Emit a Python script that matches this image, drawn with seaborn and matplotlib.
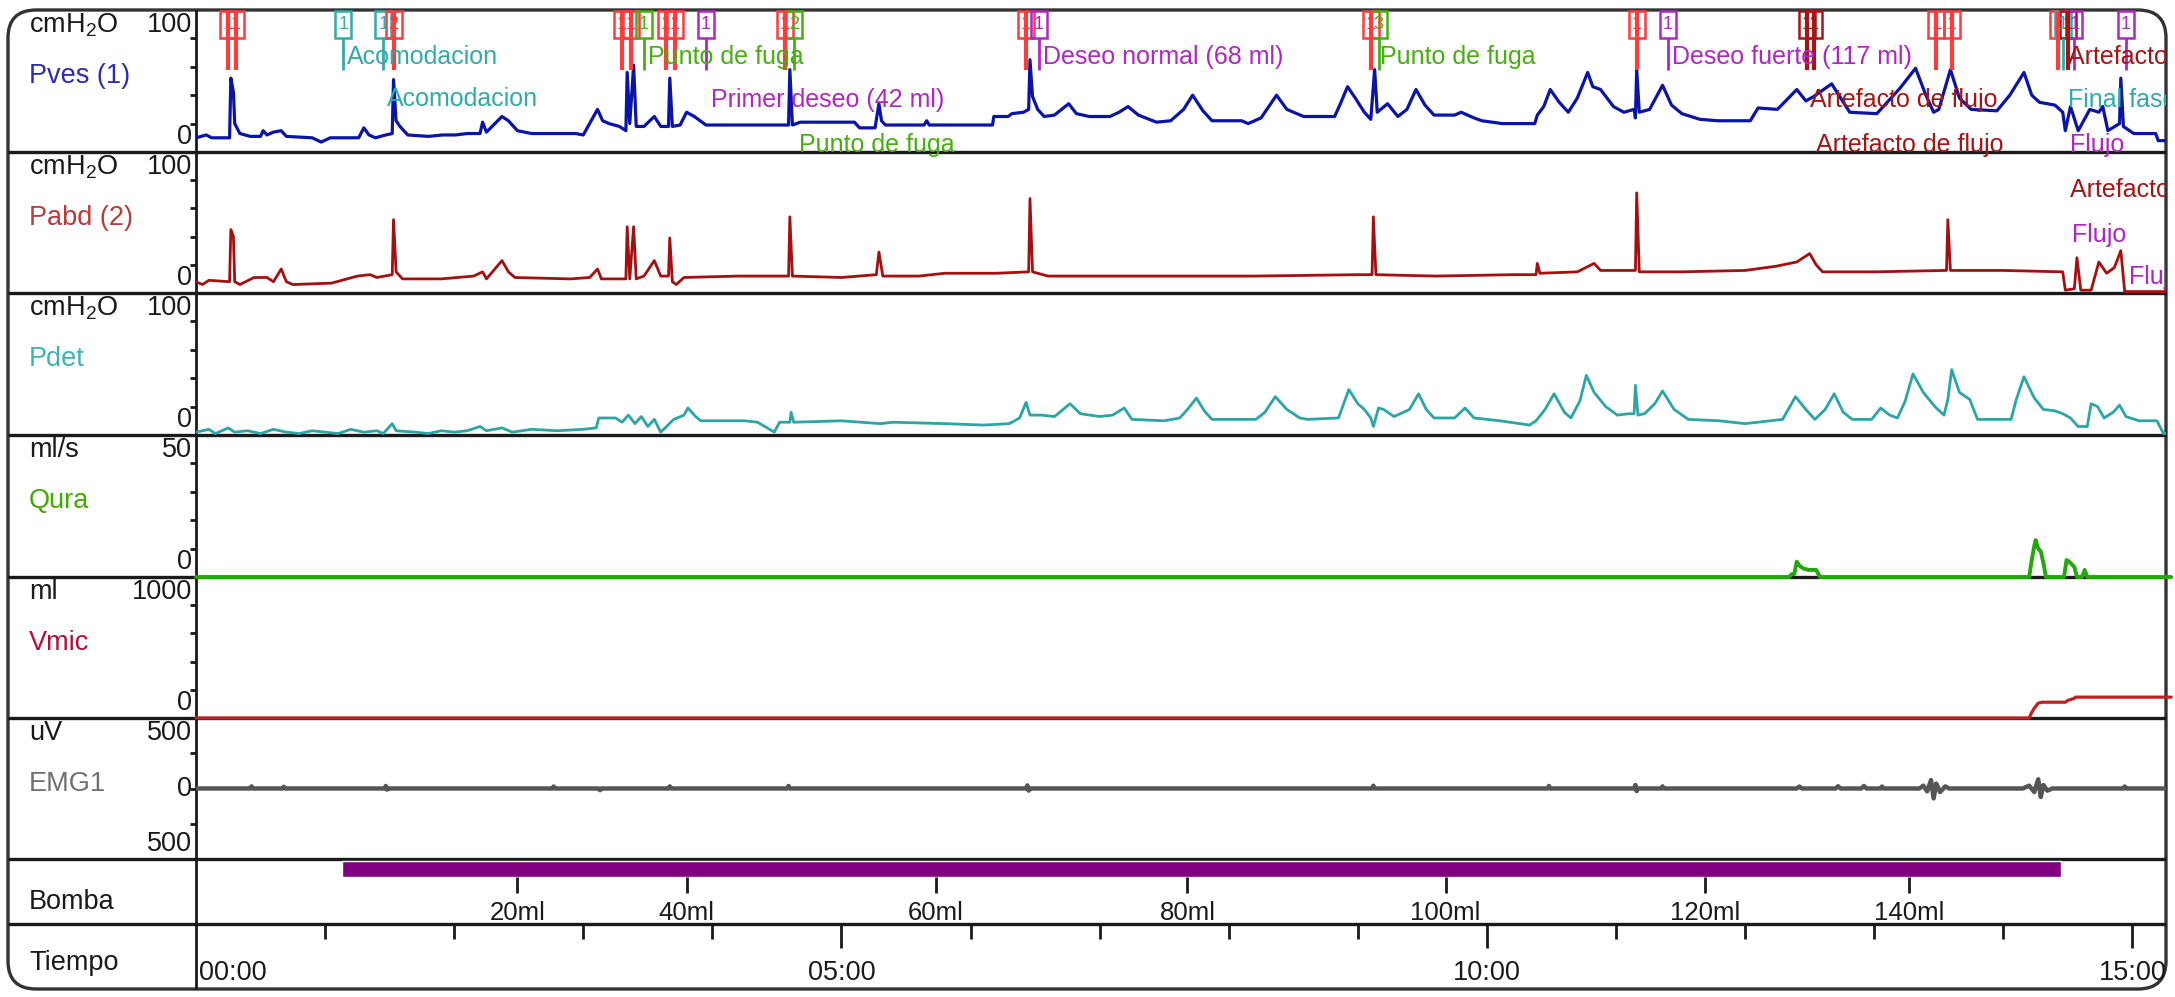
import matplotlib
matplotlib.use("Agg")
import matplotlib.pyplot as plt
from matplotlib.patches import FancyBboxPatch, Rectangle
import seaborn as sns

# ---------------- data (time in minutes) ----------------
pves = [(0.00, 10), (0.08, 12), (0.12, 10), (0.26, 10), (0.27, 52), (0.29, 42), (0.30, 20), (0.34, 13),
        (0.42, 11), (0.50, 11), (0.52, 15), (0.55, 12), (0.60, 14), (0.66, 15), (0.70, 11), (0.90, 10),
        (0.97, 7), (1.04, 10), (1.26, 10), (1.30, 17), (1.34, 12), (1.39, 10), (1.47, 12), (1.52, 13),
        (1.53, 51), (1.55, 22), (1.58, 18), (1.64, 12), (1.80, 11), (1.91, 12), (2.01, 12), (2.10, 13),
        (2.20, 13), (2.22, 21), (2.25, 14), (2.37, 25), (2.42, 22), (2.49, 15), (2.60, 13), (2.94, 13),
        (3.00, 12), (3.11, 30), (3.15, 22), (3.20, 20), (3.28, 18), (3.33, 15), (3.34, 56), (3.36, 20),
        (3.39, 61), (3.41, 18), (3.47, 18), (3.55, 25), (3.60, 18), (3.66, 18), (3.67, 52), (3.69, 18),
        (3.75, 19), (3.80, 28), (3.86, 25), (3.95, 19), (4.30, 19), (4.59, 19), (4.60, 58), (4.62, 19),
        (4.68, 21), (5.10, 21), (5.14, 17), (5.26, 17), (5.29, 34), (5.31, 22), (5.34, 19), (5.64, 19),
        (5.66, 22), (5.68, 19), (6.17, 19), (6.18, 25), (6.29, 25), (6.32, 27), (6.41, 28), (6.45, 30),
        (6.46, 65), (6.48, 39), (6.52, 30), (6.57, 25), (6.65, 26), (6.76, 34), (6.82, 27), (6.92, 25),
        (7.08, 25), (7.15, 28), (7.22, 32), (7.30, 26), (7.44, 21), (7.55, 22), (7.65, 30), (7.72, 40),
        (7.80, 29), (7.87, 22), (8.10, 22), (8.15, 20), (8.25, 24), (8.37, 40), (8.45, 30), (8.58, 25),
        (8.82, 25), (8.86, 33), (8.92, 46), (8.98, 38), (9.05, 28), (9.10, 23), (9.13, 58), (9.15, 28),
        (9.23, 34), (9.31, 25), (9.38, 30), (9.45, 44), (9.52, 33), (9.59, 26), (9.75, 26), (9.80, 28),
        (9.90, 24), (9.96, 22), (10.12, 20), (10.37, 20), (10.39, 26), (10.44, 32), (10.49, 44),
        (10.56, 35), (10.63, 28), (10.70, 38), (10.78, 56), (10.82, 46), (10.88, 44), (10.98, 32),
        (11.06, 28), (11.14, 30), (11.15, 24), (11.16, 58), (11.18, 28), (11.26, 30), (11.36, 47),
        (11.43, 33), (11.51, 27), (11.65, 23), (11.79, 22), (12.04, 22), (12.10, 31), (12.25, 30),
        (12.40, 44), (12.47, 36), (12.53, 39), (12.67, 48), (12.74, 38), (12.81, 28), (13.02, 27),
        (13.10, 35), (13.20, 45), (13.32, 59), (13.40, 40), (13.46, 28), (13.50, 30), (13.59, 58),
        (13.66, 38), (13.75, 30), (13.95, 29), (14.05, 40), (14.16, 56), (14.22, 40), (14.28, 35),
        (14.40, 33), (14.46, 28), (14.48, 15), (14.52, 32), (14.58, 15), (14.67, 30), (14.74, 28),
        (14.77, 32), (14.81, 15), (14.90, 20), (14.91, 52), (14.93, 18), (15.01, 13), (15.18, 13),
        (15.20, 8), (15.30, 8)]

pabd = [(0.00, 8), (0.05, 6), (0.10, 9), (0.26, 8), (0.27, 45), (0.29, 40), (0.30, 8), (0.34, 6),
        (0.45, 11), (0.55, 11), (0.60, 8), (0.66, 17), (0.70, 8), (0.75, 6), (1.05, 7), (1.25, 12),
        (1.35, 13), (1.40, 11), (1.52, 13), (1.53, 52), (1.55, 15), (1.60, 10), (1.90, 10), (2.15, 12),
        (2.22, 15), (2.25, 10), (2.37, 23), (2.42, 15), (2.47, 11), (2.90, 10), (3.05, 11), (3.11, 17),
        (3.14, 10), (3.33, 10), (3.34, 47), (3.36, 10), (3.39, 47), (3.41, 10), (3.47, 12), (3.55, 23),
        (3.60, 12), (3.66, 12), (3.67, 39), (3.69, 8), (3.72, 6), (3.78, 11), (4.20, 12), (4.59, 12),
        (4.60, 54), (4.62, 12), (5.00, 11), (5.27, 13), (5.29, 29), (5.32, 12), (5.60, 12), (5.80, 14),
        (6.20, 14), (6.45, 15), (6.46, 67), (6.48, 15), (6.60, 12), (7.50, 12), (8.20, 12), (9.00, 13),
        (9.11, 13), (9.12, 54), (9.14, 13), (9.60, 12), (10.20, 13), (10.38, 13), (10.39, 21),
        (10.41, 14), (10.70, 15), (10.83, 21), (10.88, 16), (11.15, 16), (11.16, 71), (11.18, 15),
        (11.50, 15), (12.00, 16), (12.24, 19), (12.40, 22), (12.50, 28), (12.55, 20), (12.60, 15),
        (13.00, 15), (13.56, 16), (13.57, 52), (13.59, 16), (14.00, 16), (14.46, 15), (14.48, 2),
        (14.55, 3), (14.57, 25), (14.60, 2), (14.68, 2), (14.74, 22), (14.80, 14), (14.86, 18),
        (14.91, 30), (14.94, 1), (15.30, 1)]

pdet = [(0.00, 2), (0.10, 4), (0.15, 1), (0.25, 5), (0.30, 2), (0.40, 3), (0.50, 1), (0.60, 4),
        (0.70, 2), (0.80, 1), (0.90, 3), (1.00, 2), (1.10, 1), (1.20, 4), (1.30, 2), (1.40, 3),
        (1.45, 1), (1.52, 8), (1.55, 3), (1.70, 2), (1.80, 1), (1.90, 3), (2.00, 2), (2.10, 3),
        (2.20, 6), (2.25, 3), (2.37, 5), (2.45, 2), (2.60, 4), (2.80, 3), (3.00, 4), (3.10, 5),
        (3.12, 12), (3.25, 12), (3.30, 9), (3.35, 14), (3.40, 8), (3.45, 13), (3.50, 6), (3.55, 11),
        (3.60, 2), (3.70, 11), (3.78, 14), (3.81, 19), (3.87, 13), (3.91, 10), (4.25, 10), (4.35, 9),
        (4.48, 2), (4.52, 9), (4.60, 9), (4.61, 16), (4.63, 9), (5.00, 10), (5.30, 8), (5.40, 9),
        (5.80, 8), (6.10, 7), (6.30, 8), (6.38, 12), (6.43, 23), (6.46, 14), (6.55, 14), (6.65, 13),
        (6.77, 22), (6.85, 15), (7.00, 13), (7.10, 14), (7.19, 19), (7.25, 11), (7.50, 10), (7.62, 12),
        (7.68, 18), (7.75, 26), (7.81, 17), (7.87, 11), (8.21, 11), (8.28, 16), (8.36, 27), (8.45, 18),
        (8.55, 12), (8.61, 11), (8.85, 12), (8.93, 32), (9.00, 22), (9.05, 18), (9.10, 12), (9.12, 6),
        (9.16, 19), (9.20, 18), (9.28, 13), (9.40, 18), (9.47, 29), (9.53, 18), (9.59, 12), (9.75, 12),
        (9.83, 19), (9.90, 12), (10.10, 10), (10.33, 7), (10.38, 10), (10.45, 18), (10.52, 29),
        (10.60, 16), (10.65, 12), (10.72, 24), (10.77, 42), (10.83, 30), (10.92, 20), (11.01, 14),
        (11.10, 15), (11.14, 15), (11.15, 35), (11.17, 14), (11.22, 15), (11.30, 22), (11.36, 31),
        (11.45, 18), (11.56, 11), (11.80, 10), (12.00, 8), (12.29, 11), (12.39, 27), (12.47, 18),
        (12.54, 11), (12.62, 18), (12.69, 29), (12.76, 16), (12.83, 11), (12.98, 11), (13.05, 19),
        (13.12, 14), (13.18, 12), (13.24, 24), (13.30, 43), (13.38, 30), (13.47, 20), (13.54, 14),
        (13.57, 25), (13.60, 46), (13.66, 30), (13.74, 25), (13.80, 11), (14.06, 11), (14.10, 25),
        (14.16, 41), (14.24, 26), (14.31, 18), (14.40, 17), (14.46, 15), (14.52, 12), (14.58, 6),
        (14.65, 6), (14.68, 22), (14.73, 20), (14.78, 12), (14.85, 16), (14.90, 21), (14.95, 13),
        (15.05, 10), (15.19, 10), (15.24, 1), (15.30, 1)]

qura = [(0.00, 0), (12.34, 0), (12.36, 1), (12.38, 1), (12.40, 5.4), (12.42, 4), (12.45, 3),
        (12.49, 2.5), (12.55, 2.5), (12.58, 0), (14.20, 0), (14.22, 6), (14.24, 11), (14.25, 13),
        (14.27, 10), (14.29, 9), (14.31, 5), (14.33, 0), (14.47, 0), (14.49, 6), (14.52, 5),
        (14.55, 3.5), (14.57, 0), (14.61, 0), (14.63, 2.5), (14.65, 0), (15.30, 0)]

vmic = [(0.00, 0), (14.20, 0), (14.22, 40), (14.24, 70), (14.27, 105), (14.30, 112), (14.48, 112),
        (14.50, 125), (14.55, 140), (14.56, 148), (15.30, 148)]

emg = [(0.00, 0), (0.42, 0), (0.43, 15), (0.44, 0), (0.67, 0), (0.68, 12), (0.69, 0), (1.46, 0),
       (1.47, 18), (1.48, -8), (1.49, 0), (2.76, 0), (2.77, 14), (2.78, 0), (3.12, 0), (3.13, -12),
       (3.14, 0), (3.66, 0), (3.67, 15), (3.68, 0), (4.58, 0), (4.59, 18), (4.60, 0), (6.43, 0),
       (6.44, 22), (6.45, -15), (6.46, 0), (9.11, 0), (9.12, 20), (9.13, 0), (10.47, 0), (10.48, 18),
       (10.49, 0), (11.14, 0), (11.15, 25), (11.16, -18), (11.17, 0), (11.35, 0), (11.36, 15),
       (11.37, 0), (12.40, 0), (12.42, 14), (12.44, 0), (12.70, 0), (12.72, 16), (12.74, 0),
       (12.90, 0), (12.92, 18), (12.94, 0), (13.05, 0), (13.06, 14), (13.07, 0), (13.35, 0),
       (13.38, 20), (13.41, -20), (13.44, 60), (13.46, -70), (13.48, 35), (13.51, -25), (13.55, 15),
       (13.58, 0), (14.15, 0), (14.20, 20), (14.24, -25), (14.27, 65), (14.29, -60), (14.31, 25),
       (14.34, -15), (14.38, 0), (14.93, 0), (14.94, 14), (14.95, 0), (15.30, 0)]

pump_start, pump_end = 1.13, 14.45
vol_t = [2.49, 3.80, 5.73, 7.68, 9.68, 11.69, 13.27]
vol_labels = ['20ml', '40ml', '60ml', '80ml', '100ml', '120ml', '140ml']

minute_ticks = [1, 2, 3, 4, 5, 6, 7, 8, 9, 10, 11, 12, 13, 14, 15]
time_labels = {0: '00:00', 5: '05:00', 10: '10:00', 15: '15:00'}

# event markers: time, kind, number in the box
marker_t = [0.25, 0.31, 1.14, 1.45, 1.53, 3.30, 3.37, 3.47, 3.64, 3.71, 3.95, 4.56, 4.63, 6.43,
            6.53, 9.10, 9.16, 11.16, 11.40, 12.48, 12.53, 13.48, 13.60, 14.42, 14.46, 14.50, 14.55, 14.95]
marker_kind = ['red', 'red', 'teal', 'teal', 'red', 'red', 'red', 'green', 'red', 'red', 'purple',
               'red', 'green', 'red', 'purple', 'red', 'green', 'red', 'purple', 'darkred', 'darkred',
               'red', 'red', 'red', 'teal', 'darkred', 'purple', 'purple']
marker_num = ['1', '1', '1', '1', '2', '1', '1', '1', '1', '1', '1', '1', '2', '1', '1', '1', '3', '1',
              '1', '1', '1', '1', '1', '1', '1', '1', '1', '1']

# event texts: start time, row (pixel), text, kind
label_t = [1.17, 1.48, 3.50, 3.99, 4.67, 6.56, 9.17, 11.43, 12.50, 12.55, 14.50, 14.50, 14.52,
           14.52, 14.53, 14.97]
label_row = [57, 99, 57, 100, 145, 57, 57, 57, 100, 145, 57, 100, 145, 190, 235, 277]
label_text = ['Acomodacion', 'Acomodacion', 'Punto de fuga', 'Primer deseo (42 ml)', 'Punto de fuga',
              'Deseo normal (68 ml)', 'Punto de fuga', 'Deseo fuerte (117 ml)', 'Artefacto de flujo',
              'Artefacto de flujo', 'Artefacto de flujo', 'Final fase de llenado', 'Flujo',
              'Artefacto de flujo', 'Flujo', 'Flujo']
label_kind = ['teal', 'teal', 'green', 'purple', 'green', 'purple', 'green', 'purple', 'darkred',
              'darkred', 'darkred', 'teal', 'purple', 'darkred', 'purple', 'purple']

kind_color = {'red': '#FF3B3B', 'teal': '#33AAAA', 'green': '#45B010', 'purple': '#B026C4',
              'darkred': '#A81414'}

# ---------------- style ----------------
sns.set_style("white")
plt.rcParams['font.family'] = ['Liberation Sans', 'DejaVu Sans']
plt.rcParams['mathtext.default'] = 'regular'

W, H = 2175, 997
X0, X1 = 196, 2166
T_MAX = 15.26
FS_LEFT = 19.5
FS_EVENT = 18
FS_AXIS = 19
INK = '#1a1a1a'

fig = plt.figure(figsize=(W / 100, H / 100), dpi=100)


def px_axes(y0, y1, z=1):
    ax = fig.add_axes([X0 / W, 1 - y1 / H, (X1 - X0) / W, (y1 - y0) / H], zorder=z)
    ax.patch.set_alpha(0)
    for s in ax.spines.values():
        s.set_visible(False)
    ax.set_xlim(0, T_MAX)
    return ax


def ftext(x, y, s, **kw):
    kw.setdefault('fontsize', FS_LEFT)
    fig.text(x / W, 1 - y / H, s, va='center', **kw)


# background frame
bg = fig.add_axes([0, 0, 1, 1], zorder=0)
bg.set_xlim(0, W)
bg.set_ylim(H, 0)
bg.axis('off')
bg.add_patch(FancyBboxPatch((8, 10), X1 - 8, 979, boxstyle='round,pad=0,rounding_size=28',
                            fc='white', ec='#333333', lw=2.4))
rows = [10, 152, 293, 435, 577, 718, 859, 924, 989]
bg.hlines(rows[1:-1], 8, X1, color=INK, lw=2.4)
bg.vlines(X0, 10, 989, color=INK, lw=2.0)

panels = [
    dict(data=pves, unit='cmH$_2$O', name='Pves (1)', ncol='#2B2BB5', col='#0A14A8', lw=2.3,
         ylim=(0, 100), ticks=[20, 40, 60, 80], hi='100', lo='0'),
    dict(data=pabd, unit='cmH$_2$O', name='Pabd (2)', ncol='#B83A3A', col='#A50F0F', lw=2.0,
         ylim=(0, 100), ticks=[20, 40, 60, 80], hi='100', lo='0'),
    dict(data=pdet, unit='cmH$_2$O', name='Pdet', ncol='#3CB4B4', col='#2BA5A5', lw=2.0,
         ylim=(0, 100), ticks=[20, 40, 60, 80], hi='100', lo='0'),
    dict(data=qura, unit='ml/s', name='Qura', ncol='#44AA00', col='#22A80A', lw=2.8,
         ylim=(0, 50), ticks=[10, 20, 30, 40], hi='50', lo='0'),
    dict(data=vmic, unit='ml', name='Vmic', ncol='#B0103A', col='#C41E1E', lw=2.3,
         ylim=(0, 1000), ticks=[200, 400, 600, 800], hi='1000', lo='0'),
    dict(data=emg, unit='uV', name='EMG1', ncol='#707070', col='#555555', lw=3.2,
         ylim=(-500, 500), ticks=[-250, 0, 250], hi='500', lo='500'),
]

for i, p in enumerate(panels):
    top, bot = rows[i], rows[i + 1]
    ax = px_axes(top, bot)
    t = [a for a, b in p['data']]
    v = [b for a, b in p['data']]
    sns.lineplot(x=t, y=v, ax=ax, color=p['col'], linewidth=p['lw'], estimator=None,
                 sort=False, legend=False)
    ax.lines[-1].set_clip_on(False if p['name'] in ('Qura', 'Vmic') else True)
    ax.set_ylim(*p['ylim'])
    ax.set_xlim(0, T_MAX)
    ax.set_yticks(p['ticks'])
    ax.set_xticks([])
    ax.tick_params(axis='y', direction='out', length=4, width=2, colors=INK,
                   labelleft=False, left=True)
    ftext(29, top + 15, p['unit'], color=INK, ha='left')
    ftext(29, top + 66, p['name'], color=p['ncol'], ha='left')
    ftext(192, top + 15, p['hi'], color=INK, ha='right')
    ftext(192, bot - 15, p['lo'], color=INK, ha='right')
    if p['name'] == 'EMG1':
        ftext(192, (top + bot) / 2, '0', color=INK, ha='right')

ftext(29, 902, 'Bomba', color=INK, ha='left')
ftext(29, 963, 'Tiempo', color=INK, ha='left')

# overlay in pixel rows for markers, pump bar and time axis
ov = px_axes(10, 989, z=3)
ov.set_ylim(989, 10)
ov.axis('off')

bw = 16 * T_MAX / (X1 - X0)
for t, k, n in zip(marker_t, marker_kind, marker_num):
    c = kind_color[k]
    ov.add_patch(Rectangle((t - bw / 2, 11), bw, 27, fill=False, ec=c, lw=1.8, clip_on=True))
    ov.text(t, 25, n, color=c, fontsize=13, ha='center', va='center', clip_on=True)
    if k in ('red', 'darkred'):
        ov.vlines(t, 11, 70, color=c, lw=3.0)
    else:
        ov.vlines(t, 38, 70, color=c, lw=2.0)

for t, r, s, k in zip(label_t, label_row, label_text, label_kind):
    ov.text(t, r, s, color=kind_color[k], fontsize=FS_EVENT, ha='left', va='center', clip_on=True)

# pump bar and infused volume ticks
ov.broken_barh([(pump_start, pump_end - pump_start)], (861, 16), facecolors='#800080')
ov.vlines(vol_t, 877, 893, color=INK, lw=2)
for t, s in zip(vol_t, vol_labels):
    ov.text(t, 913, s, color=INK, fontsize=FS_AXIS - 0.5, ha='center', va='center')

# time axis
for m in minute_ticks:
    ov.vlines(m, 924, 948 if m in time_labels else 939, color=INK, lw=2)
for m, s in time_labels.items():
    ov.text(m + (0.02 if m == 0 else 0), 973, s, color=INK, fontsize=FS_AXIS + 0.5,
            ha='left' if m == 0 else 'center', va='center', clip_on=True)

fig.savefig('out.png', dpi=100)
